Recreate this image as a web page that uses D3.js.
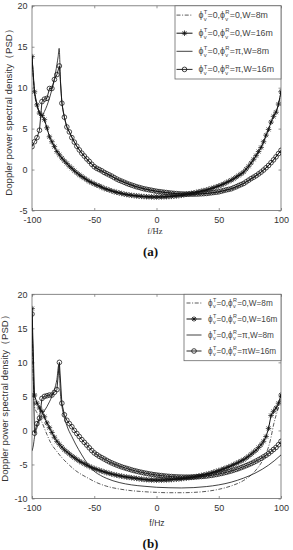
<!DOCTYPE html>
<html><head><meta charset="utf-8">
<script src="https://cdn.jsdelivr.net/npm/d3@7"></script>
<style>body{margin:0;background:#fff}svg{display:block}</style>
</head><body>
<svg id="c" width="293" height="550"></svg>
<script>
// ---------- DATA ----------
const freq = [-100,-98,-96,-94,-92,-90,-88,-86,-84,-82,-80,-78,-76,-74,-72,-70,-68,-66,-64,-62,-60,-58,-56,-54,-52,-50,-48,-46,-44,-42,-40,-38,-36,-34,-32,-30,-28,-26,-24,-22,-20,-18,-16,-14,-12,-10,-8,-6,-4,-2,0,2,4,6,8,10,12,14,16,18,20,22,24,26,28,30,32,34,36,38,40,42,44,46,48,50,52,54,56,58,60,62,64,66,68,70,72,74,76,78,80,82,84,86,88,90,92,94,96,98,100];

// panel (a)
const starsA = [13.8,9.5,7.9,6.9,6.6,6.1,5.1,4.0,3.4,2.8,2.2,1.8,1.4,1.05,0.75,0.4,0.15,-0.15,-0.4,-0.65,-0.85,-1.05,-1.25,-1.45,-1.6,-1.75,-1.9,-2.0,-2.15,-2.3,-2.4,-2.5,-2.6,-2.7,-2.78,-2.85,-2.92,-3.0,-3.05,-3.1,-3.15,-3.18,-3.22,-3.25,-3.28,-3.3,-3.32,-3.33,-3.34,-3.35,-3.35,-3.35,-3.34,-3.33,-3.32,-3.3,-3.28,-3.25,-3.22,-3.18,-3.15,-3.08,-3.02,-2.96,-2.9,-2.85,-2.78,-2.7,-2.63,-2.56,-2.5,-2.4,-2.32,-2.22,-2.1,-2.0,-1.88,-1.75,-1.6,-1.45,-1.3,-1.12,-0.92,-0.72,-0.52,-0.3,0.05,0.4,0.8,1.25,1.7,2.2,2.7,3.4,4.2,4.9,5.8,6.5,7.0,8.0,9.5];
const circlesA = [2.8,3.4,3.9,4.8,8.3,8.6,8.7,9.9,9.9,11.0,11.6,12.65,8.1,6.4,5.2,4.6,3.9,3.35,2.85,2.4,2.0,1.65,1.3,1.0,0.65,0.35,0.15,0.0,-0.15,-0.35,-0.5,-0.65,-0.8,-0.98,-1.15,-1.3,-1.42,-1.55,-1.68,-1.8,-1.9,-2.0,-2.1,-2.18,-2.27,-2.35,-2.41,-2.47,-2.53,-2.59,-2.65,-2.69,-2.73,-2.77,-2.81,-2.85,-2.88,-2.91,-2.94,-2.96,-2.98,-2.99,-3.0,-3.0,-3.0,-3.0,-2.99,-2.98,-2.96,-2.94,-2.92,-2.88,-2.84,-2.8,-2.76,-2.72,-2.64,-2.56,-2.48,-2.42,-2.35,-2.22,-2.1,-1.96,-1.83,-1.7,-1.5,-1.3,-1.1,-0.93,-0.75,-0.53,-0.31,-0.06,0.22,0.5,0.84,1.18,1.55,1.95,2.35];
const dashA = [[-100,13.8],[-98,9.4],[-96,7.8],[-94,6.9],[-92,6.6],[-90,6.0],[-88,5.0],[-85,3.7],[-80,2.2],[-75,1.2],[-70,0.4],[-60,-0.85],[-50,-1.75],[-40,-2.4],[-30,-2.85],[-20,-3.15],[-10,-3.3],[0,-3.35],[10,-3.3],[20,-3.15],[30,-2.85],[40,-2.5],[50,-2.0],[60,-1.3],[70,-0.3],[80,1.7],[85,3.0],[90,4.9],[94,6.5],[97,7.4],[100,9.5]];
const solidA = [[-100,13.8],[-98,9.5],[-96,7.9],[-94,6.9],[-92,6.6],[-90,7.1],[-88,7.8],[-86,8.7],[-84,9.8],[-82,11.1],[-80,12.8],[-79,13.8],[-78.2,14.8],[-77,10.5],[-76,8.3],[-74,6.4],[-72,5.2],[-70,4.6],[-65,3.1],[-60,2.0],[-50,0.35],[-40,-0.5],[-30,-1.3],[-20,-1.9],[-10,-2.35],[0,-2.65],[10,-2.85],[20,-2.98],[30,-3.0],[40,-2.92],[50,-2.72],[60,-2.35],[70,-1.7],[80,-0.75],[90,0.5],[100,2.35]];

// panel (b)
const starsB = [17.9,5.2,4.0,3.3,2.8,2.0,1.1,0.4,-0.3,-1.0,-1.6,-2.05,-2.45,-2.85,-3.15,-3.45,-3.75,-4.0,-4.25,-4.5,-4.7,-4.9,-5.1,-5.28,-5.45,-5.6,-5.73,-5.85,-5.97,-6.09,-6.2,-6.3,-6.4,-6.49,-6.57,-6.65,-6.72,-6.79,-6.85,-6.9,-6.95,-7.0,-7.05,-7.1,-7.15,-7.2,-7.23,-7.26,-7.28,-7.29,-7.3,-7.3,-7.29,-7.28,-7.27,-7.25,-7.22,-7.19,-7.16,-7.13,-7.1,-7.05,-7.0,-6.95,-6.9,-6.85,-6.77,-6.69,-6.61,-6.53,-6.45,-6.35,-6.24,-6.13,-6.02,-5.9,-5.77,-5.63,-5.49,-5.35,-5.2,-5.03,-4.85,-4.67,-4.48,-4.3,-4.05,-3.8,-3.5,-3.2,-2.9,-2.5,-2.1,-1.6,-0.9,0.3,2.2,2.8,3.3,4.0,5.2];
const circlesB = [17.1,-0.4,1.0,1.8,4.7,5.0,5.1,5.2,5.2,5.6,6.0,10.0,4.0,2.3,1.5,1.0,0.55,0.0,-0.45,-0.9,-1.35,-1.75,-2.15,-2.55,-2.95,-3.3,-3.55,-3.8,-4.0,-4.2,-4.4,-4.6,-4.77,-4.93,-5.08,-5.22,-5.35,-5.47,-5.58,-5.69,-5.8,-5.9,-5.99,-6.08,-6.16,-6.24,-6.31,-6.38,-6.44,-6.5,-6.55,-6.6,-6.64,-6.68,-6.72,-6.75,-6.78,-6.8,-6.82,-6.84,-6.85,-6.86,-6.86,-6.86,-6.85,-6.84,-6.82,-6.8,-6.77,-6.74,-6.7,-6.65,-6.6,-6.54,-6.47,-6.4,-6.32,-6.24,-6.15,-6.05,-5.95,-5.84,-5.72,-5.6,-5.46,-5.32,-5.17,-5.02,-4.86,-4.68,-4.5,-4.3,-4.1,-3.88,-3.65,-3.4,-3.1,-2.8,-2.5,-2.1,-1.6];
const dashB = [[-100,17.5],[-99,8],[-98,3.5],[-96,2.6],[-94,1.9],[-92,1.2],[-90,0.3],[-88,-0.6],[-85,-1.8],[-80,-3.1],[-76,-4.0],[-70,-5.1],[-65,-5.9],[-60,-6.5],[-55,-7.0],[-50,-7.5],[-40,-8.2],[-30,-8.6],[-20,-8.85],[-10,-9.0],[0,-9.1],[10,-9.15],[20,-9.15],[30,-9.1],[40,-8.95],[50,-8.65],[60,-8.15],[70,-7.35],[75,-6.7],[80,-5.8],[85,-4.5],[88,-3.4],[90,-2.4],[92,-1.0],[94,0.8],[96,2.2],[98,3.4],[100,5.0]];
const solidB = [[-100,-3.0],[-99,-2.3],[-98,-1.0],[-96,0.4],[-94,1.5],[-92,2.3],[-90,2.9],[-88,3.5],[-86,4.2],[-84,5.0],[-82,6.0],[-80,7.5],[-78.5,9.6],[-77,5.0],[-76,3.6],[-74,1.9],[-72,0.7],[-70,-0.2],[-68,-0.9],[-65,-2.0],[-60,-3.6],[-55,-5.0],[-50,-6.0],[-45,-6.6],[-40,-7.05],[-30,-7.65],[-20,-8.0],[-10,-8.2],[0,-8.35],[10,-8.42],[20,-8.45],[30,-8.4],[40,-8.25],[50,-8.0],[60,-7.6],[70,-7.0],[80,-6.2],[90,-5.1],[95,-4.4],[100,-3.6]];

const xTicks = [-100,-50,0,50,100];
const yTicksA = [-5,0,5,10,15,20];
const yTicksB = [-10,-5,0,5,10,15,20];
const legendA = ["ϕ_v^T=0,ϕ_v^R=0,W=8m","ϕ_v^T=0,ϕ_v^R=0,W=16m","ϕ_v^T=0,ϕ_v^R=π,W=8m","ϕ_v^T=0,ϕ_v^R=π,W=16m"];
const legendB = ["ϕ_v^T=0,ϕ_v^R=0,W=8m","ϕ_v^T=0,ϕ_v^R=0,W=16m","ϕ_v^T=0,ϕ_v^R=π,W=8m","ϕ_v^T=0,ϕ_v^R=πW=16m"];
const yLabel = "Doppler power spectral density（PSD）";
const xLabel = "f/Hz";

// ---------- DRAW ----------
const svg = d3.select('#c');
const SANS = "'Liberation Sans', Arial, sans-serif";
const SERIF = "'Liberation Serif', 'Times New Roman', serif";
const AX = '#6a6a6a', TX = '#333';

const asterisk = {draw(ctx, size){ const r = Math.sqrt(size)/2, d = r*0.72;
  ctx.moveTo(-r,0); ctx.lineTo(r,0); ctx.moveTo(0,-r); ctx.lineTo(0,r);
  ctx.moveTo(-d,-d); ctx.lineTo(d,d); ctx.moveTo(-d,d); ctx.lineTo(d,-d); }};

function richText(g, x, yc, label, fs){
  const parts = label.split(/_(\w)\^(\w)/);
  let cx = x; const y = yc + fs*0.35;
  for (let i=0;i<parts.length;i++){
    if (i%3===0){
      if(!parts[i]) continue;
      const t = g.append('text').attr('x',cx).attr('y',y).attr('font-size',fs).text(parts[i]);
      cx += t.node().getComputedTextLength();
    } else {
      const sub = parts[i], sup = parts[i+1]; i++;
      const s1 = g.append('text').attr('x',cx+0.3).attr('y',y-fs*0.45).attr('font-size',fs*0.66).text(sup);
      const s2 = g.append('text').attr('x',cx+0.3).attr('y',y+fs*0.28).attr('font-size',fs*0.66).text(sub);
      cx += Math.max(s1.node().getComputedTextLength(), s2.node().getComputedTextLength()) + 0.6;
    }
  }
}

function panel(cfg){
  const x = d3.scaleLinear([-100,100],[32,281]);
  const y = d3.scaleLinear(cfg.dom,[cfg.bottom,cfg.top]);
  const g = svg.append('g');
  const id = 'clip'+cfg.name;
  svg.append('clipPath').attr('id',id).append('rect')
    .attr('x',32).attr('y',cfg.top).attr('width',249).attr('height',cfg.bottom-cfg.top);

  const fmt = d => String(d);
  const ax = (gen, tr) => { const a = g.append('g').attr('transform',tr).call(gen);
    a.select('.domain').remove();
    a.selectAll('line').attr('stroke',AX).attr('stroke-width',0.7);
    a.selectAll('text').attr('fill',TX).attr('font-family',SANS).attr('font-size',9);
    return a; };
  ax(d3.axisBottom(x).tickValues(xTicks).tickSize(-2.5).tickPadding(6).tickFormat(fmt), `translate(0,${cfg.bottom})`);
  ax(d3.axisTop(x).tickValues(xTicks).tickSize(-2.5).tickFormat(''), `translate(0,${cfg.top})`);
  ax(d3.axisLeft(y).tickValues(cfg.ticks).tickSize(-2.5).tickPadding(4.5).tickFormat(fmt), `translate(32,0)`);
  ax(d3.axisRight(y).tickValues(cfg.ticks).tickSize(-2.5).tickFormat(''), `translate(281,0)`);
  g.append('rect').attr('x',32).attr('y',cfg.top).attr('width',249).attr('height',cfg.bottom-cfg.top)
    .attr('fill','none').attr('stroke',AX).attr('stroke-width',0.8);

  const plot = g.append('g').attr('clip-path',`url(#${id})`);
  const lineP = d3.line().x(d=>x(d[0])).y(d=>y(d[1]));
  const lineS = d3.line().x(d=>x(d[0])).y(d=>y(d[1])).curve(d3.curveMonotoneX);
  const stars = freq.map((f,i)=>[f,cfg.stars[i]]);
  const circs = freq.map((f,i)=>[f,cfg.circles[i]]);

  plot.append('path').attr('d',lineS(cfg.dash)).attr('fill','none').attr('stroke','#111')
    .attr('stroke-width',0.7).attr('stroke-dasharray','4,1.6,1,1.6');
  plot.append('path').attr('d',lineS(cfg.solid)).attr('fill','none').attr('stroke','#111').attr('stroke-width',0.8);
  plot.append('path').attr('d',lineP(stars)).attr('fill','none').attr('stroke','#111').attr('stroke-width',1);
  plot.append('path').attr('d',lineP(circs)).attr('fill','none').attr('stroke','#111').attr('stroke-width',0.9);
  const star = d3.symbol().type(asterisk).size(30);
  const circ = d3.symbol().type(d3.symbolCircle).size(17);
  plot.selectAll('.st').data(stars).join('path').attr('transform',d=>`translate(${x(d[0])},${y(d[1])})`)
    .attr('d',star).attr('fill','none').attr('stroke','#111').attr('stroke-width',0.75);
  plot.selectAll('.ci').data(circs).join('path').attr('transform',d=>`translate(${x(d[0])},${y(d[1])})`)
    .attr('d',circ).attr('fill','none').attr('stroke','#111').attr('stroke-width',0.75);

  // legend
  const L = cfg.leg;
  const lg = g.append('g');
  lg.append('rect').attr('x',L.x0).attr('y',cfg.top).attr('width',281-L.x0).attr('height',L.y1-cfg.top)
    .attr('fill','#fff').attr('stroke',AX).attr('stroke-width',0.8);
  const tg = lg.append('g').attr('fill','#444').attr('font-family',SANS);
  const styles = [
    {dash:'4,1.6,1,1.6', w:0.7, m:null},
    {dash:null, w:1, m:star},
    {dash:null, w:0.8, m:null},
    {dash:null, w:0.9, m:circ}];
  cfg.labels.forEach((lab,i)=>{
    const yc = cfg.top + L.first + i*L.step;
    const s = styles[i];
    const ln = lg.append('line').attr('x1',L.s0).attr('x2',L.s1).attr('y1',yc).attr('y2',yc)
      .attr('stroke','#111').attr('stroke-width',s.w);
    if (s.dash) ln.attr('stroke-dasharray',s.dash);
    if (s.m) lg.append('path').attr('transform',`translate(${(L.s0+L.s1)/2},${yc})`).attr('d',s.m)
      .attr('fill','none').attr('stroke','#111').attr('stroke-width',0.8);
    richText(tg, L.t0, yc, lab, L.fs);
  });

  // labels
  svg.append('text').attr('transform',`translate(${cfg.ylx},${cfg.ylc}) rotate(-90)`)
    .attr('text-anchor','middle').attr('font-family',SANS).attr('font-size',9.6).attr('fill',TX).text(yLabel);
  svg.append('text').attr('x',cfg.xlx).attr('y',cfg.xly).attr('text-anchor','middle')
    .attr('font-family',cfg.xlFont).attr('font-size',8.6).attr('fill',TX).text(xLabel);
  svg.append('text').attr('x',150.5).attr('y',cfg.capY).attr('text-anchor','middle')
    .attr('font-family',SERIF).attr('font-weight','bold').attr('font-size',13).attr('fill','#111').text(cfg.cap);
}

panel({name:'a', dom:[-5,20], top:5.8, bottom:210.5, ticks:yTicksA, stars:starsA, circles:circlesA,
  dash:dashA, solid:solidA, labels:legendA,
  leg:{x0:175, y1:79, s0:176.5, s1:192.5, t0:198.5, first:9.3, step:18.1, fs:8.8},
  ylx:12, ylc:110, xlx:155, xly:233.5, xlFont:SERIF, capY:256, cap:'(a)'});
panel({name:'b', dom:[-10,20], top:294.3, bottom:498.5, ticks:yTicksB, stars:starsB, circles:circlesB,
  dash:dashB, solid:solidB, labels:legendB,
  leg:{x0:184, y1:360.7, s0:186.5, s1:201.5, t0:208, first:8.7, step:16, fs:8.2},
  ylx:8, ylc:396, xlx:157, xly:526, xlFont:SANS, capY:548, cap:'(b)'});
</script>
</body></html>
